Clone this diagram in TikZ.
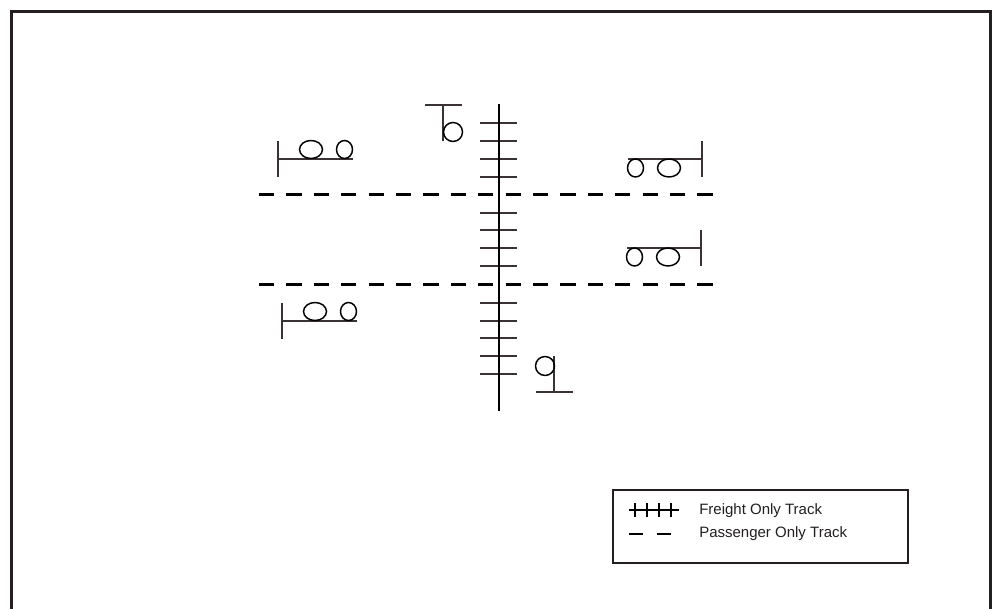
\documentclass[tikz,border=0pt]{standalone}
\usepackage{fontspec}
\setmainfont{Liberation Sans}
\usetikzlibrary{positioning}
\definecolor{inkdark}{HTML}{231F20}
\definecolor{inksoft}{HTML}{3A3233}
\tikzset{
  % spår
  frameln/.style={draw=inkdark,line width=2.4pt},
  freight/.style={draw=black,line width=2pt},
  tie/.style={draw=inksoft,line width=0.95pt},
  passenger/.style={draw=black,line width=2.2pt,dash pattern=on 11.4pt off 9.15pt},
  signal/.style={draw=inksoft,line width=0.95pt},
  lamp/.style={draw=black,line width=1.1pt},
  % förklaring
  legbox/.style={rectangle,draw=inkdark,line width=0.9pt,fill=white,inner sep=0pt,
                 minimum width=221.25pt,minimum height=54.75pt},
  legtxt/.style={font=\fontsize{11.25pt}{13pt}\selectfont,text=inkdark,inner sep=0pt,anchor=west},
  legdash/.style={draw=black,line width=1.4pt,dash pattern=on 10.5pt off 10.5pt},
  legfr/.style={draw=black,line width=1.7pt},
}
\begin{document}
\begin{tikzpicture}[x=0.75pt,y=-0.75pt]
  \useasboundingbox (0,0) rectangle (992,609);
  \draw[frameln] (11.5,609) -- (11.5,11.5) -- (990.5,11.5) -- (990.5,609);
  % passenger lines
  \draw[passenger] (259,194.5) -- (714,194.5);
  \draw[passenger] (259,284.5) -- (714,284.5);
  % freight line
  \foreach \y in {123,141,159,177,213,230,248,266,303,321,338,356,374}
    \draw[tie] (480,\y) -- (517,\y);
  \draw[freight] (499,104) -- (499,411);
  % signals left
  \foreach \x/\y in {278/159,282/321}{
    \draw[signal] (\x,\y-18) -- (\x,\y+18);
    \draw[signal] (\x,\y) -- (\x+75,\y);
    \draw[lamp] (\x+33,\y-9.5) ellipse [x radius=11.5,y radius=9];
    \draw[lamp] (\x+66.5,\y-9.5) ellipse [x radius=8,y radius=9];
  }
  % signals right
  \foreach \x/\y in {702/159,701/248}{
    \draw[signal] (\x,\y-18) -- (\x,\y+18);
    \draw[signal] (\x,\y) -- (\x-74,\y);
    \draw[lamp] (\x-33,\y+9) ellipse [x radius=11.5,y radius=9];
    \draw[lamp] (\x-66.5,\y+9) ellipse [x radius=8,y radius=9];
  }
  % dwarf signals
  \draw[signal] (425,105) -- (462,105);
  \draw[signal] (443,105) -- (443,141);
  \draw[lamp] (453,132) circle [radius=9.5];
  \draw[signal] (536,392) -- (573,392);
  \draw[signal] (554,356) -- (554,392);
  \draw[lamp] (545,366) circle [radius=9.5];
  % legend
  \node[legbox] (legend) at (760.5,526.5) {};
  \node[legtxt] (frtxt) at (699,510.5) {Freight Only Track};
  \node[legtxt] (patxt) at (699,534) {Passenger Only Track};
  \draw[legfr] (629,510) -- (679,510);
  \foreach \x in {635,647,659,671}
    \draw[legfr] (\x,503) -- (\x,517);
  \draw[legdash] (629,534) -- (671,534);
\end{tikzpicture}
\end{document}
